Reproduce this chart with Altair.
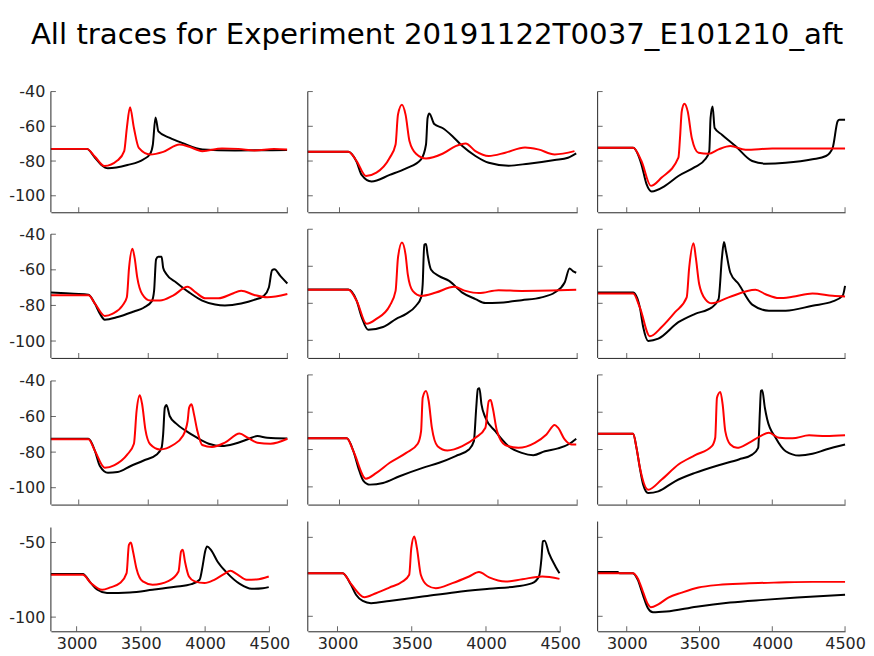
import altair as alt
import pandas as pd

TITLE = "All traces for Experiment 20191122T0037_E101210_aft"
X_DOMAIN = [2800, 4500]
Y_MIN = -109.5
Y_AXIS_TOP = -40
X_TICKS = [3000, 3500, 4000, 4500]
Y_TICKS_TALL = [-100, -80, -60, -40]
Y_TICKS_SHORT = [-100, -50]

# (time, voltage) pairs, row-major panels
r1c1_black = [(2800,-73),(3058,-73),(3117,-78.1),(3163,-82.3),(3210,-84.2),(3350,-82.3),(3467,-79),(3514,-75.8),(3533,-70.5),(3552,-54.9),(3573,-62.9),(3655,-66.7),(3748,-69.7),(3889,-73.3),(4123,-73.9),(4498,-73.7)]
r1c1_red = [(2800,-73),(3058,-73),(3117,-77.5),(3186,-82.9),(3280,-79.6),(3327,-74.3),(3346,-61),(3369,-49.1),(3397,-61),(3432,-72.4),(3514,-76.2),(3608,-74.7),(3725,-70.5),(3795,-71.8),(3889,-74.3),(4030,-72.8),(4147,-73),(4264,-73.9),(4404,-73),(4498,-73.3)]
r1c2_black = [(2800,-74.7),(3056,-74.7),(3108,-80.5),(3140,-88),(3202,-91.8),(3317,-88),(3421,-84.2),(3515,-79),(3546,-70.5),(3556,-55.2),(3567,-52.6),(3598,-58.7),(3650,-61),(3713,-65.7),(3775,-71.4),(3858,-77.1),(3942,-81),(4067,-82.7),(4192,-81.5),(4358,-79.4),(4442,-78.1),(4494,-75.6)]
r1c2_red = [(2800,-74.7),(3056,-74.7),(3108,-80),(3167,-88.6),(3233,-86.7),(3317,-78.1),(3354,-70.5),(3369,-53.3),(3394,-47.6),(3417,-53.3),(3442,-68.6),(3483,-75.8),(3546,-78.5),(3650,-75.8),(3733,-71.4),(3796,-69.9),(3858,-74.3),(3942,-77.1),(4046,-75.2),(4171,-72.2),(4254,-73.3),(4358,-76.2),(4483,-74.3)]
r1c3_black = [(2800,-72.4),(3044,-72.4),(3101,-81.9),(3136,-93.3),(3171,-97.5),(3263,-94.3),(3355,-88.6),(3470,-83.4),(3539,-79),(3567,-74.3),(3576,-55.2),(3590,-48.6),(3604,-61),(3654,-64.8),(3747,-71.4),(3862,-80),(3954,-81.5),(4092,-81),(4276,-79),(4369,-77.1),(4415,-72.4),(4449,-57.1),(4461,-56.2),(4500,-56.2)]
r1c3_red = [(2800,-72.4),(3044,-72.4),(3101,-80),(3166,-94.3),(3240,-89.5),(3355,-78.1),(3366,-66.7),(3378,-51.4),(3396,-47),(3419,-51.4),(3447,-66.7),(3493,-75.2),(3562,-75.8),(3631,-73.3),(3712,-71.4),(3816,-73.5),(4000,-72.8),(4276,-72.8),(4500,-72.8)]
r2c1_black = [(2800,-72.7),(2965,-73.5),(3070,-74),(3117,-79.1),(3152,-84.6),(3187,-88),(3280,-86.5),(3397,-83.4),(3467,-81.3),(3526,-77.6),(3542,-71.7),(3556,-54.2),(3572,-52.7),(3596,-52.7),(3607,-58.8),(3631,-62.5),(3701,-67.1),(3794,-72.7),(3888,-77.3),(3981,-79.5),(4051,-80),(4168,-78.9),(4262,-76.9),(4332,-74.5),(4367,-69.9),(4390,-60.3),(4407,-59.7),(4449,-63.4),(4500,-67.7)]
r2c1_red = [(2800,-74.3),(3070,-74.3),(3117,-79),(3187,-85.9),(3245,-84.6),(3315,-80),(3346,-75.4),(3362,-58.8),(3386,-48.1),(3402,-53.3),(3421,-64.4),(3456,-73.6),(3514,-77.3),(3584,-77.3),(3678,-74.5),(3783,-69.5),(3841,-72.7),(3911,-76),(4005,-76),(4098,-73.6),(4168,-71.7),(4262,-74.1),(4355,-75.4),(4500,-73.6)]
r2c2_black = [(2800,-72.6),(3056,-72.6),(3108,-78.6),(3140,-87.5),(3181,-94.3),(3275,-92.8),(3358,-88.4),(3421,-85.7),(3483,-81.3),(3515,-76.8),(3525,-69.7),(3535,-48.4),(3546,-48),(3556,-53.7),(3577,-61.7),(3629,-65.3),(3692,-67.9),(3775,-74.2),(3858,-77.7),(3921,-79.9),(4004,-79.7),(4150,-78.3),(4275,-76.8),(4358,-74.2),(4421,-68.8),(4452,-61.2),(4473,-62.6),(4494,-63.5)]
r2c2_red = [(2800,-72.7),(3056,-72.7),(3108,-78.6),(3171,-91.1),(3233,-88.4),(3317,-81.3),(3354,-73.3),(3369,-55.5),(3394,-47.1),(3417,-53.7),(3431,-64.4),(3462,-73.3),(3515,-76),(3608,-74.2),(3723,-71.1),(3796,-73.3),(3879,-74.5),(4004,-72.9),(4150,-73.3),(4494,-72.7)]
r2c3_black = [(2800,-74.2),(3044,-74.2),(3090,-82.2),(3113,-92.8),(3147,-100.3),(3217,-99.1),(3355,-90.2),(3470,-85.7),(3585,-82.2),(3631,-77.7),(3654,-55.5),(3668,-46.9),(3682,-51.9),(3712,-63.5),(3770,-69.7),(3862,-80.7),(3977,-84),(4092,-84),(4276,-81.3),(4415,-79),(4484,-75.9),(4500,-70.6)]
r2c3_red = [(2800,-74.7),(3044,-74.7),(3090,-82.2),(3159,-97.8),(3240,-92.8),(3332,-84.8),(3412,-76.8),(3429,-60.8),(3459,-47.5),(3475,-55.5),(3498,-69.7),(3539,-77.7),(3585,-80),(3700,-76.8),(3885,-72.7),(3954,-75.1),(4046,-77.2),(4138,-76.5),(4276,-74.7),(4415,-75.9),(4500,-76.3)]
r3c1_black = [(2800,-72.5),(3070,-72.5),(3117,-79.4),(3152,-87.8),(3210,-91.6),(3280,-91.2),(3374,-87.8),(3467,-84.7),(3561,-81.3),(3596,-77.5),(3607,-70),(3619,-55),(3631,-53.5),(3654,-59.7),(3701,-64),(3771,-68.1),(3841,-71.5),(3935,-75.3),(4028,-76.6),(4121,-75.3),(4215,-72.8),(4285,-71),(4355,-71.9),(4500,-72.3)]
r3c1_red = [(2800,-72.8),(3070,-72.8),(3117,-79.4),(3187,-88.8),(3257,-87.3),(3350,-81.3),(3397,-75.3),(3416,-56.9),(3439,-48.1),(3456,-53.1),(3479,-67.2),(3514,-75.6),(3584,-78.5),(3678,-76),(3748,-71),(3783,-62.5),(3794,-55),(3811,-53.1),(3829,-58.8),(3853,-68.1),(3888,-76),(3958,-77.1),(4051,-74.7),(4156,-69.6),(4215,-71.9),(4285,-74.7),(4379,-75.3),(4500,-72.5)]
r3c2_black = [(2800,-74),(3046,-74),(3088,-80.9),(3119,-89.8),(3150,-96.6),(3192,-98.8),(3275,-97.9),(3379,-94.3),(3525,-89.8),(3629,-87.1),(3733,-83.5),(3817,-80),(3848,-75.5),(3863,-57.6),(3873,-47.7),(3883,-47.2),(3896,-55.8),(3921,-62.9),(3983,-70.1),(4067,-78.2),(4150,-81.8),(4223,-83),(4296,-80.9),(4379,-79.4),(4452,-76.9),(4494,-74.2)]
r3c2_red = [(2800,-74),(3046,-74),(3088,-80.9),(3167,-95.6),(3233,-92.5),(3317,-87.1),(3421,-81.8),(3494,-76.9),(3515,-70.1),(3525,-52.2),(3546,-48.6),(3563,-54),(3583,-68.3),(3619,-78.2),(3681,-80.5),(3775,-78.2),(3858,-73.7),(3921,-68.3),(3942,-54),(3954,-53.4),(3967,-57.6),(3994,-70.1),(4046,-77.6),(4129,-79.1),(4233,-76.4),(4306,-71.9),(4358,-66.9),(4379,-68.3),(4421,-74.6),(4463,-77.3),(4494,-77.3)]
r3c3_black = [(2800,-71.5),(3044,-71.5),(3067,-79.1),(3090,-89.8),(3113,-98.8),(3147,-103.3),(3217,-102.4),(3332,-97),(3470,-92.5),(3631,-88.4),(3770,-85.3),(3862,-82.7),(3903,-79.1),(3915,-59.4),(3922,-48.6),(3931,-48.2),(3949,-57.6),(3965,-63.8),(4023,-73.7),(4092,-80.9),(4184,-83.2),(4276,-82.3),(4369,-80),(4500,-77.3)]
r3c3_red = [(2800,-71.5),(3044,-71.5),(3067,-79.1),(3090,-89.5),(3147,-101.5),(3240,-96.1),(3355,-88),(3470,-83),(3585,-78.2),(3608,-73.7),(3620,-52.2),(3643,-49.1),(3659,-55.8),(3677,-70.1),(3712,-77.3),(3758,-79.1),(3839,-76.4),(3919,-72.8),(3977,-71),(4046,-73.7),(4138,-74),(4253,-72.4),(4369,-72.8),(4500,-72.4)]
r4c1_black = [(2800,-71.2),(3048,-71.2),(3111,-77.2),(3162,-81.7),(3237,-83.9),(3414,-83.5),(3591,-81.7),(3768,-79.7),(3894,-77.9),(3957,-75),(3982,-65),(4000,-56),(4015,-52.7),(4045,-54.9),(4096,-62.7),(4172,-70.5),(4273,-77.9),(4361,-81),(4449,-80.6),(4495,-79.9)]
r4c1_red = [(2800,-71.7),(3048,-71.7),(3111,-77.2),(3199,-81.7),(3263,-80.1),(3338,-77.2),(3389,-70.5),(3407,-51.6),(3422,-50),(3439,-56),(3465,-67.2),(3515,-76.1),(3591,-78.3),(3717,-75.7),(3793,-69.4),(3813,-56),(3826,-54.9),(3843,-62.7),(3874,-72.8),(3919,-76.1),(3995,-77.2),(4071,-75),(4146,-71.2),(4197,-69),(4247,-71.2),(4323,-75),(4399,-74.8),(4495,-72.8)]
r4c2_black = [(2800,-72.7),(3035,-72.7),(3091,-80.1),(3125,-86.4),(3170,-90.3),(3226,-91.7),(3349,-90.3),(3573,-87.5),(3797,-84.7),(4021,-82.6),(4200,-81.1),(4312,-79),(4357,-74.8),(4374,-63.1),(4383,-52.5),(4395,-52.1),(4424,-60),(4468,-68.4),(4495,-72.7)]
r4c2_red = [(2800,-72.7),(3035,-72.7),(3091,-79.5),(3181,-87.9),(3259,-85.4),(3349,-81.8),(3438,-78),(3483,-73.7),(3497,-56.8),(3517,-49.4),(3535,-56.8),(3561,-73.7),(3606,-80.5),(3662,-82.2),(3774,-79),(3886,-74.8),(3953,-72),(4021,-75.4),(4133,-78),(4245,-76.5),(4379,-74.8),(4495,-76.3)]
r4c3_black = [(2800,-72),(2938,-72),(2950,-72.7),(3042,-72.7),(3076,-76.9),(3111,-86.4),(3146,-94.9),(3180,-97.5),(3272,-97),(3479,-93.9),(3710,-91.3),(3940,-89.6),(4171,-88.1),(4500,-86.4)]
r4c3_red = [(2800,-72.7),(3042,-72.7),(3076,-76),(3111,-84.3),(3146,-92.4),(3166,-94.3),(3217,-92.4),(3286,-88.1),(3378,-85),(3493,-81.8),(3631,-80.1),(3816,-79.2),(4046,-78.6),(4276,-78.2),(4500,-78.2)]

TRACES = [
    (r1c1_black, r1c1_red), (r1c2_black, r1c2_red), (r1c3_black, r1c3_red),
    (r2c1_black, r2c1_red), (r2c2_black, r2c2_red), (r2c3_black, r2c3_red),
    (r3c1_black, r3c1_red), (r3c2_black, r3c2_red), (r3c3_black, r3c3_red),
    (r4c1_black, r4c1_red), (r4c2_black, r4c2_red), (r4c3_black, r4c3_red),
]

# layout (pixels) and per-panel y range tops
WIDTHS = [[237, 270, 248], [237, 270, 248], [237, 270, 248], [219, 253, 248]]
HEIGHTS = [121, 129, 130, 110]
Y_TOPS = [[-40, -40, -40], [-37.2, -40, -40], [-36.6, -40, -40], [-36, -40, -40]]

AX = "#262626"
FONT = "DejaVu Sans"
HYPHEN_LABEL = "datum.value < 0 ? '-' + format(-datum.value, 'd') : format(datum.value, 'd')"


def make_panel(i):
    r, c = divmod(i, 3)
    black, red = TRACES[i]
    w, h = WIDTHS[r][c], HEIGHTS[r]
    yticks = Y_TICKS_SHORT if r == 3 else Y_TICKS_TALL
    xscale = alt.Scale(domain=X_DOMAIN, nice=False, zero=False)
    yscale = alt.Scale(domain=[Y_MIN, Y_TOPS[r][c]], nice=False, zero=False)
    xaxis = alt.Axis(values=X_TICKS, labels=(r == 3), ticks=False, grid=False,
                     domain=True, domainColor=AX, domainWidth=1, format="d",
                     labelFontSize=16, labelColor=AX, labelFont=FONT,
                     labelPadding=4, labelFlush=False, labelOverlap=False,
                     title=None)
    yaxis = alt.Axis(values=yticks, labels=(c == 0), ticks=False, grid=False,
                     domain=False, labelFontSize=16, labelColor=AX, labelFont=FONT,
                     labelPadding=6, labelFlush=False, labelOverlap=False,
                     labelExpr=HYPHEN_LABEL, title=None)

    dfb = pd.DataFrame(black, columns=["t", "v"])
    dfr = pd.DataFrame(red, columns=["t", "v"])
    lb = alt.Chart(dfb).mark_line(color="#000000", strokeWidth=2,
                                  interpolate="monotone").encode(
        x=alt.X("t:Q", scale=xscale, axis=xaxis),
        y=alt.Y("v:Q", scale=yscale, axis=yaxis),
    )
    lr = alt.Chart(dfr).mark_line(color="#ff0000", strokeWidth=2,
                                  interpolate="monotone").encode(
        x="t:Q", y="v:Q")
    yline = alt.Chart(pd.DataFrame({"v": [Y_MIN], "v2": [Y_AXIS_TOP]})).mark_rule(
        color=AX, strokeWidth=1).encode(x=alt.value(0), y="v:Q", y2="v2:Q")
    xt = alt.Chart(pd.DataFrame({"t": X_TICKS})).mark_tick(
        orient="vertical", size=5, thickness=1, color=AX).encode(
        x="t:Q", y=alt.value(h - 2.5))
    yt = alt.Chart(pd.DataFrame({"v": yticks})).mark_tick(
        orient="horizontal", size=5, thickness=1, color=AX).encode(
        y="v:Q", x=alt.value(2.5))
    return alt.layer(lb, lr, yline, xt, yt).properties(width=w, height=h)


panels = [make_panel(i) for i in range(12)]

chart = alt.concat(
    *panels, columns=3,
    spacing=alt.RowColnumber(row=17, column=20.5),
    bounds="flush",
).properties(
    title=alt.TitleParams(TITLE, fontSize=29.3, font=FONT, color="#000000",
                          fontWeight="normal", anchor="middle", offset=33),
    padding={"left": 0, "top": 12, "right": 0, "bottom": 0},
).configure(font=FONT).configure_view(strokeWidth=0, stroke=None)

chart.save("out.html", embed_options={"renderer": "svg", "actions": False})
